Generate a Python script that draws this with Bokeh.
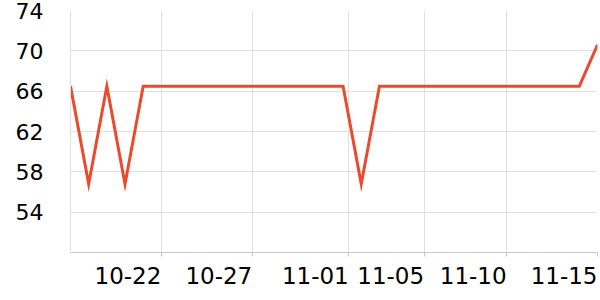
import pandas as pd
from bokeh.plotting import figure
from bokeh.models import FixedTicker, DatetimeTickFormatter, Range1d
from bokeh.embed import file_html
from bokeh.resources import INLINE

dates = ["2023-10-17", "2023-10-18", "2023-10-19", "2023-10-20", "2023-10-21",
         "2023-10-22", "2023-10-23", "2023-10-24", "2023-10-25", "2023-10-26",
         "2023-10-27", "2023-10-28", "2023-10-29", "2023-10-30", "2023-10-31",
         "2023-11-01", "2023-11-02", "2023-11-03", "2023-11-04", "2023-11-05",
         "2023-11-06", "2023-11-07", "2023-11-08", "2023-11-09", "2023-11-10",
         "2023-11-11", "2023-11-12", "2023-11-13", "2023-11-14", "2023-11-15"]
values = [66.5, 56.8, 66.5, 56.8, 66.5,
          66.5, 66.5, 66.5, 66.5, 66.5,
          66.5, 66.5, 66.5, 66.5, 66.5,
          66.5, 56.8, 66.5, 66.5, 66.5,
          66.5, 66.5, 66.5, 66.5, 66.5,
          66.5, 66.5, 66.5, 66.5, 70.6]
tick_dates = ["2023-10-22 00:00", "2023-10-27 00:00", "2023-11-01 07:30",
              "2023-11-05 11:00", "2023-11-10 00:00", "2023-11-15 00:00"]
y_ticks = [54, 58, 62, 66, 70, 74]
y_min, y_max = 50, 74

x = pd.to_datetime(dates)
tick_ms = [pd.Timestamp(d).timestamp() * 1000 for d in tick_dates]

FONT = "DejaVu Sans"
GRID = "#e0e0e0"
AXIS = "#c8c8c8"

p = figure(width=600, height=300, x_axis_type="datetime", output_backend="svg",
           toolbar_location=None, x_range=Range1d(x[0], x[-1]),
           y_range=Range1d(y_min, y_max))
p.min_border_left = 70
p.min_border_right = 3
p.min_border_top = 10
p.min_border_bottom = 48
p.outline_line_color = None
p.background_fill_color = "white"
p.border_fill_color = "white"

p.line(x, values, line_color="#ec4a2c", line_width=3, line_join="miter")

p.xaxis.ticker = FixedTicker(ticks=tick_ms)
fmt = "%m-%d"
p.xaxis.formatter = DatetimeTickFormatter(milliseconds=fmt, seconds=fmt, minsec=fmt,
                                          minutes=fmt, hourmin=fmt, hours=fmt,
                                          days=fmt, months=fmt, years=fmt)
p.xaxis.axis_line_color = AXIS
p.xaxis.major_tick_line_color = AXIS
p.xaxis.major_tick_out = 4
p.xaxis.major_tick_in = 0
p.xaxis.minor_tick_line_color = None
p.xaxis.major_label_text_font = FONT
p.xaxis.major_label_text_font_size = "23px"
p.xaxis.major_label_text_color = "black"
p.xaxis.major_label_standoff = 19
p.xaxis.major_label_orientation = 1e-6

p.yaxis.ticker = FixedTicker(ticks=y_ticks)
p.yaxis.axis_line_color = GRID
p.yaxis.major_tick_line_color = None
p.yaxis.minor_tick_line_color = None
p.yaxis.major_tick_out = 0
p.yaxis.major_tick_in = 0
p.yaxis.major_label_text_font = FONT
p.yaxis.major_label_text_font_size = "22px"
p.yaxis.major_label_text_color = "black"
p.yaxis.major_label_standoff = 27

p.xgrid.grid_line_color = GRID
p.ygrid.grid_line_color = GRID
p.xgrid.ticker = FixedTicker(ticks=tick_ms)
p.ygrid.ticker = FixedTicker(ticks=y_ticks)

open("out.html", "w").write(file_html(p, INLINE))
